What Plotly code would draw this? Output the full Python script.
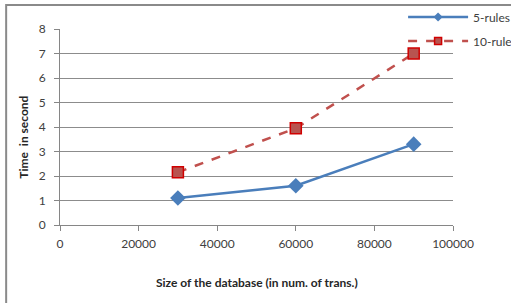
import plotly.graph_objects as go

sizes = [30000, 60000, 90000]
rules5 = [1.1, 1.6, 3.3]
rules10 = [2.15, 3.95, 7.0]
series_names = ["5-rules", "10-rules"]

FONT = "Lato"
TXT = "#404040"
BLUE = "#4A7EBB"
RED = "#C0504D"

fig = go.Figure()
fig.add_trace(go.Scatter(
    x=sizes, y=rules5, name=series_names[0], mode="lines+markers",
    line=dict(color=BLUE, width=2.5),
    marker=dict(symbol="diamond", size=12, color=BLUE),
    showlegend=False,
))
fig.add_trace(go.Scatter(
    x=sizes, y=rules10, name=series_names[1], mode="lines+markers",
    line=dict(color=RED, width=2.5, dash="dash"),
    marker=dict(symbol="square", size=11, color="#B85450",
                line=dict(color="#D00000", width=1.5)),
    showlegend=False,
))
# legend entries (small markers, like the original)
fig.add_trace(go.Scatter(
    x=[None], y=[None], name=series_names[0], mode="lines+markers",
    line=dict(color=BLUE, width=2.5),
    marker=dict(symbol="diamond", size=7, color=BLUE),
    legendgroup="a",
))
fig.add_trace(go.Scatter(
    x=[None], y=[None], name=series_names[1], mode="lines+markers",
    line=dict(color=RED, width=2.5, dash="dash"),
    marker=dict(symbol="square", size=7, color="#B85450",
                line=dict(color="#D00000", width=1.5)),
    legendgroup="b",
))

fig.update_layout(
    width=511, height=303,
    margin=dict(l=60, r=58, t=29, b=78, autoexpand=False),
    paper_bgcolor="white", plot_bgcolor="white",
    font=dict(family=FONT, size=12, color=TXT),
    showlegend=True,
    legend=dict(x=0.873, y=1.135, xanchor="left", yanchor="top",
                bgcolor="rgba(0,0,0,0)", font=dict(size=12, color=TXT),
                itemwidth=60, tracegroupgap=5),
    xaxis=dict(range=[0, 100000], dtick=20000, tickformat="d",
               showgrid=False, zeroline=False,
               showline=True, linecolor="#868686", linewidth=1,
               ticks="outside", tickcolor="#868686", ticklen=5,
               ticklabelstandoff=3,
               tickfont=dict(size=12, color=TXT)),
    yaxis=dict(range=[0, 8], dtick=1,
               showgrid=True, gridcolor="#8C8C8C", gridwidth=1,
               zeroline=False,
               showline=True, linecolor="#868686", linewidth=1,
               ticks="outside", tickcolor="#868686", ticklen=5,
               ticklabelstandoff=6,
               tickfont=dict(size=12, color=TXT)),
    annotations=[
        dict(text="<b>Size of the database (in num. of trans.)</b>",
             xref="paper", yref="paper", x=0.5, y=-0.295, xanchor="center",
             yanchor="middle", showarrow=False,
             font=dict(family=FONT, size=12, color="#262626")),
        dict(text="<b>Time  in second</b>",
             xref="paper", yref="paper", x=-0.092, y=0.45, xanchor="center",
             yanchor="middle", showarrow=False, textangle=-90,
             font=dict(family=FONT, size=12, color="#262626")),
    ],
    shapes=[
        dict(type="rect", xref="paper", yref="paper",
             x0=-0.137, x1=1.25, y0=-0.5, y1=1.122,
             line=dict(color="#8A8A8A", width=2), fillcolor="rgba(0,0,0,0)",
             layer="below"),
    ],
)

fig.write_html("out.html",
               config={"displayModeBar": False},
               post_script="document.body.style.margin='0';")
